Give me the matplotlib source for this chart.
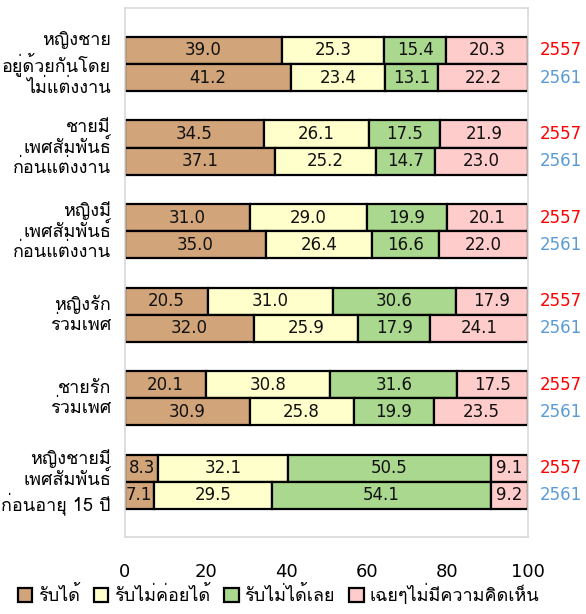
import matplotlib
matplotlib.use("Agg")
import matplotlib.pyplot as plt
from matplotlib import font_manager
from matplotlib.ft2font import FT2Font
from matplotlib.patches import Patch

# ---- data ----
categories = [
    "หญิงชาย\nอยู่ด้วยกันโดย\nไม่แต่งงาน",
    "ชายมี\nเพศสัมพันธ์\nก่อนแต่งงาน",
    "หญิงมี\nเพศสัมพันธ์\nก่อนแต่งงาน",
    "หญิงรัก\nร่วมเพศ",
    "ชายรัก\nร่วมเพศ",
    "หญิงชายมี\nเพศสัมพันธ์\nก่อนอายุ 15 ปี",
]
years = ["2557", "2561"]
series_names = ["รับได้", "รับไม่ค่อยได้", "รับไม่ได้เลย", "เฉยๆไม่มีความคิดเห็น"]
accept_2557 = [39.0, 34.5, 31.0, 20.5, 20.1, 8.3]
accept_2561 = [41.2, 37.1, 35.0, 32.0, 30.9, 7.1]
barely_2557 = [25.3, 26.1, 29.0, 31.0, 30.8, 32.1]
barely_2561 = [23.4, 25.2, 26.4, 25.9, 25.8, 29.5]
reject_2557 = [15.4, 17.5, 19.9, 30.6, 31.6, 50.5]
reject_2561 = [13.1, 14.7, 16.6, 17.9, 19.9, 54.1]
neutral_2557 = [20.3, 21.9, 20.1, 17.9, 17.5, 9.1]
neutral_2561 = [22.2, 23.0, 22.0, 24.1, 23.5, 9.2]
xticks = [0, 20, 40, 60, 80, 100]

colors = ["#D2A47A", "#FFFFCC", "#A9D88E", "#FFCCCC"]
year_colors = ["#FF0000", "#5B9BD5"]

# ---- font with Thai glyphs ----
thai_font = None
for f in font_manager.fontManager.ttflist:
    try:
        cm = FT2Font(f.fname).get_charmap()
        if 0x0E2B in cm and 0x0E34 in cm:
            thai_font = f.name
            break
    except Exception:
        pass
fam = [thai_font, "DejaVu Sans"] if thai_font else ["DejaVu Sans"]
plt.rcParams["font.family"] = fam

fig = plt.figure(figsize=(5.86, 6.14), dpi=100)
ax = fig.add_axes([125 / 586, 77 / 614, 403 / 586, 529 / 614])

data = {
    "2557": [accept_2557, barely_2557, reject_2557, neutral_2557],
    "2561": [accept_2561, barely_2561, reject_2561, neutral_2561],
}
h = 0.325
for yi, yr in enumerate(years):
    offs = -h / 2 if yi == 0 else h / 2
    ys = [k + offs for k in range(len(categories))]
    left = [0.0] * len(categories)
    for si, vals in enumerate(data[yr]):
        bars = ax.barh(ys, vals, height=h, left=left, color=colors[si],
                       edgecolor="black", linewidth=1.6)
        for b, v in zip(bars, vals):
            ax.text(b.get_x() + b.get_width() / 2, b.get_y() + b.get_height() / 2,
                    f"{v:.1f}", ha="center", va="center", fontsize=12,
                    family=["DejaVu Sans"], color="#111111")
        left = [l + v for l, v in zip(left, vals)]
    for y in ys:
        ax.text(103, y, yr, ha="left", va="center", fontsize=12,
                color=year_colors[yi], family=["DejaVu Sans"])

for k, cat in enumerate(categories):
    ax.text(-3.5, k, cat, ha="right", va="center", fontsize=13,
            linespacing=1.15, color="black")

ax.set_xlim(0, 100)
ax.set_ylim(5.66, -0.67)
ax.set_yticks([])
ax.set_xticks(xticks)
ax.set_xticklabels([str(t) for t in xticks], family=["DejaVu Sans"], fontsize=13)
ax.tick_params(axis="x", length=0, pad=19)
for s in ax.spines.values():
    s.set_color("#D9D9D9")
    s.set_linewidth(1.2)

handles = [Patch(facecolor=c, edgecolor="black", linewidth=1.6) for c in colors]
fig.legend(handles, series_names, loc="lower center", bbox_to_anchor=(0.475, -0.012),
           ncol=4, frameon=False, fontsize=13, handlelength=0.8, handleheight=0.8,
           handletextpad=0.3, columnspacing=0.8)

fig.savefig("out.png", dpi=100)
